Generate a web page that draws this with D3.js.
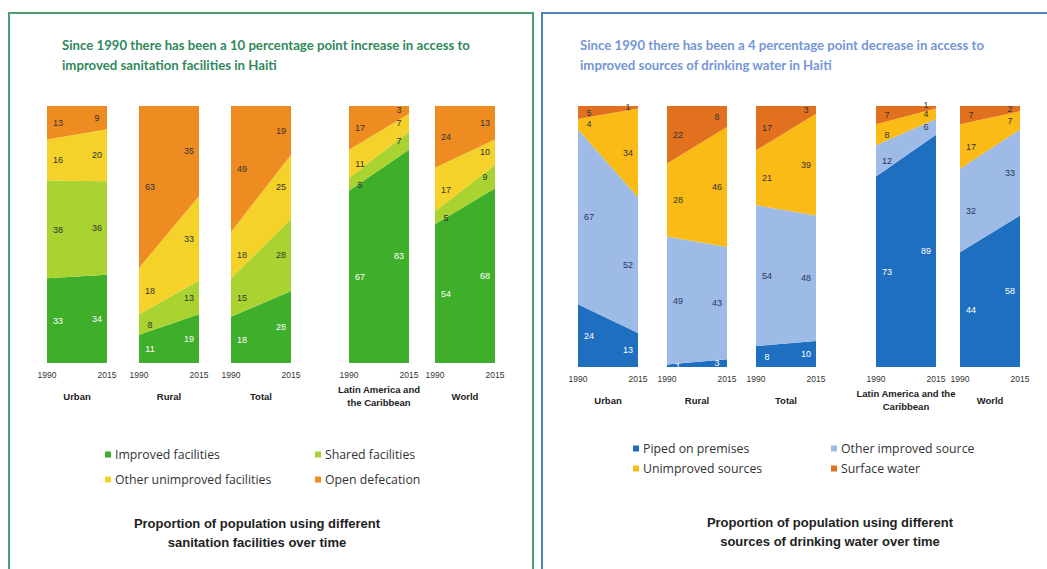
<!DOCTYPE html>
<html><head><meta charset="utf-8">
<script src="https://cdn.jsdelivr.net/npm/d3@7"></script>
<style>body{margin:0;background:#fff}svg{display:block}</style>
</head><body>
<svg id="c" width="1047" height="569"></svg>
<script>
// ---------- DATA ----------
const years = [1990, 2015];
const haitiGroups = ["Urban", "Rural", "Total"];
const regionGroups = ["Latin America and the Caribbean", "World"];

const sanKeys = ["Improved facilities", "Shared facilities", "Other unimproved facilities", "Open defecation"];
const sanImproved   = {Urban:[33,34], Rural:[11,19], Total:[18,28], "Latin America and the Caribbean":[67,83], World:[54,68]};
const sanShared     = {Urban:[38,36], Rural:[8,13],  Total:[15,28], "Latin America and the Caribbean":[5,7],   World:[5,9]};
const sanOther      = {Urban:[16,20], Rural:[18,33], Total:[18,25], "Latin America and the Caribbean":[11,7],  World:[17,10]};
const sanOpen       = {Urban:[13,9],  Rural:[63,35], Total:[49,19], "Latin America and the Caribbean":[17,3],  World:[24,13]};

const watKeys = ["Piped on premises", "Other improved source", "Unimproved sources", "Surface water"];
const watPiped      = {Urban:[24,13], Rural:[1,3],   Total:[8,10],  "Latin America and the Caribbean":[73,89], World:[44,58]};
const watOther      = {Urban:[67,52], Rural:[49,43], Total:[54,48], "Latin America and the Caribbean":[12,6],  World:[32,33]};
const watUnimproved = {Urban:[4,34],  Rural:[28,46], Total:[21,39], "Latin America and the Caribbean":[8,4],   World:[17,7]};
const watSurface    = {Urban:[5,1],   Rural:[22,8],  Total:[17,3],  "Latin America and the Caribbean":[7,1],   World:[7,2]};

const sanTitle = ["Since 1990 there has been a 10 percentage point increase in access to", "improved sanitation facilities in Haiti"];
const watTitle = ["Since 1990 there has been a 4 percentage point decrease in access to", "improved sources of drinking water in Haiti"];
const sanCaption = ["Proportion of population using different", "sanitation facilities over time"];
const watCaption = ["Proportion of population using different", "sources of drinking water over time"];
const groupLabelsSan = {Urban:["Urban"], Rural:["Rural"], Total:["Total"], "Latin America and the Caribbean":["Latin America and","the Caribbean"], World:["World"]};
const groupLabelsWat = {Urban:["Urban"], Rural:["Rural"], Total:["Total"], "Latin America and the Caribbean":["Latin America and the","Caribbean"], World:["World"]};

// ---------- DRAW ----------
const svg = d3.select("#c");
svg.append("rect").attr("width",1047).attr("height",569).attr("fill","#fff");

function panel(cfg){
  const g = svg.append("g");
  g.append("path").attr("d", cfg.frame).attr("fill","none").attr("stroke",cfg.frameColor).attr("stroke-width",2);
  cfg.title.forEach((t,i)=>{
    g.append("text").attr("x",cfg.titleX).attr("y",cfg.titleY + i*20)
      .attr("font-family","Lato, 'Open Sans', sans-serif").attr("font-weight","bold")
      .attr("font-size",13.2).attr("fill",cfg.titleColor).text(t);
  });
  const y = d3.scaleLinear().domain([0,1]).range([cfg.bottom, cfg.top]);
  const color = d3.scaleOrdinal().domain(cfg.keys).range(cfg.colors);
  const allGroups = [];
  cfg.bands.forEach(b=>{
    const band = d3.scaleBand().domain(b.groups).range(b.range).paddingInner(b.pad).paddingOuter(0);
    b.groups.forEach(gr=>allGroups.push({gr, x0:band(gr), w:band.bandwidth()}));
  });
  allGroups.forEach(({gr,x0,w})=>{
    const rows = years.map((yr,i)=>{
      const o = {year:yr};
      cfg.keys.forEach((k,j)=>o[k]=cfg.series[j][gr][i]);
      return o;
    });
    const stack = d3.stack().keys(cfg.keys).offset(d3.stackOffsetExpand)(rows);
    const x = d3.scaleLinear().domain(d3.extent(years)).range([x0, x0+w]);
    const area = d3.area().x(d=>x(d.data.year)).y0(d=>y(d[0])).y1(d=>y(d[1]));
    const gg = g.append("g");
    gg.selectAll("path.layer").data(stack).join("path").attr("class","layer")
      .attr("d",area).attr("fill",d=>color(d.key));
    // value labels, nudged apart when bands are thin
    years.forEach((yr,i)=>{
      let prev = Infinity;
      stack.forEach((layer,j)=>{
        const d = layer[i];
        let ly = Math.min(y((d[0]+d[1])/2), prev - 9);
        prev = ly;
        const lx = i===0 ? x(yr)+11 : x(yr)-10;
        gg.append("text").attr("x",lx).attr("y",ly).attr("dy","0.35em")
          .attr("text-anchor","middle").attr("font-family","Liberation Sans, Arial, sans-serif")
          .attr("font-size",9).attr("fill",cfg.labelColors[j]).text(d.data[layer.key]);
      });
    });
    years.forEach(yr=>{
      gg.append("text").attr("x",x(yr)).attr("y",cfg.bottom+15).attr("text-anchor","middle")
        .attr("font-family","Liberation Sans, Arial, sans-serif").attr("font-size",8.5).attr("fill","#333").text(yr);
    });
    const lines = cfg.groupLabels[gr];
    lines.forEach((t,i)=>{
      gg.append("text").attr("x",x0+w/2).attr("y",(lines.length>1?cfg.bottom+30:cfg.bottom+37)+i*13)
        .attr("text-anchor","middle").attr("font-family","Liberation Sans, Arial, sans-serif")
        .attr("font-weight","bold").attr("font-size",9.5).attr("fill","#222").text(t);
    });
  });
  cfg.keys.forEach((k,i)=>{
    const col = i%2, row = Math.floor(i/2);
    const lx = cfg.legX[col], ly = cfg.legY + row*cfg.legDy;
    g.append("rect").attr("x",lx).attr("y",ly-3.5).attr("width",6).attr("height",6).attr("fill",color(k));
    g.append("text").attr("x",lx+10).attr("y",ly).attr("dy","0.35em")
      .attr("font-family","'Open Sans', sans-serif").attr("font-size",12.3).attr("fill","#333").text(k);
  });
  cfg.caption.forEach((t,i)=>{
    g.append("text").attr("x",cfg.capX).attr("y",cfg.capY+i*19).attr("dy","0.35em").attr("text-anchor","middle")
      .attr("font-family","Liberation Sans, Arial, sans-serif").attr("font-weight","bold")
      .attr("font-size",13).attr("fill","#222").text(t);
  });
}

panel({
  frame:"M9,575 V13 H533 V575",
  frameColor:"#4e9c72",
  title:sanTitle, titleX:62, titleY:50, titleColor:"#2f8a5a",
  keys:sanKeys, colors:["#3fae2a","#a9d330","#f4d22a","#ee8b21"],
  series:[sanImproved,sanShared,sanOther,sanOpen],
  labelColors:["#ffffff","#333","#333","#333"],
  top:106, bottom:363,
  bands:[{groups:haitiGroups, range:[47,291], pad:0.348},{groups:regionGroups, range:[349,495], pad:0.302}],
  groupLabels:groupLabelsSan,
  legX:[105,315], legY:455, legDy:25,
  caption:sanCaption, capX:257, capY:523
});

panel({
  frame:"M542,575 V13 H1060",
  frameColor:"#4f84bd",
  title:watTitle, titleX:580, titleY:50, titleColor:"#7596d8",
  keys:watKeys, colors:["#1f6fc1","#9dbbe6","#fbbb16","#e2711f"],
  series:[watPiped,watOther,watUnimproved,watSurface],
  labelColors:["#ffffff","#2a3760","#333","#333"],
  top:106, bottom:367,
  bands:[{groups:haitiGroups, range:[578,816], pad:0.326},{groups:regionGroups, range:[876,1020], pad:0.286}],
  groupLabels:groupLabelsWat,
  legX:[633,831], legY:449, legDy:20,
  caption:watCaption, capX:830, capY:522
});
</script>
</body></html>
